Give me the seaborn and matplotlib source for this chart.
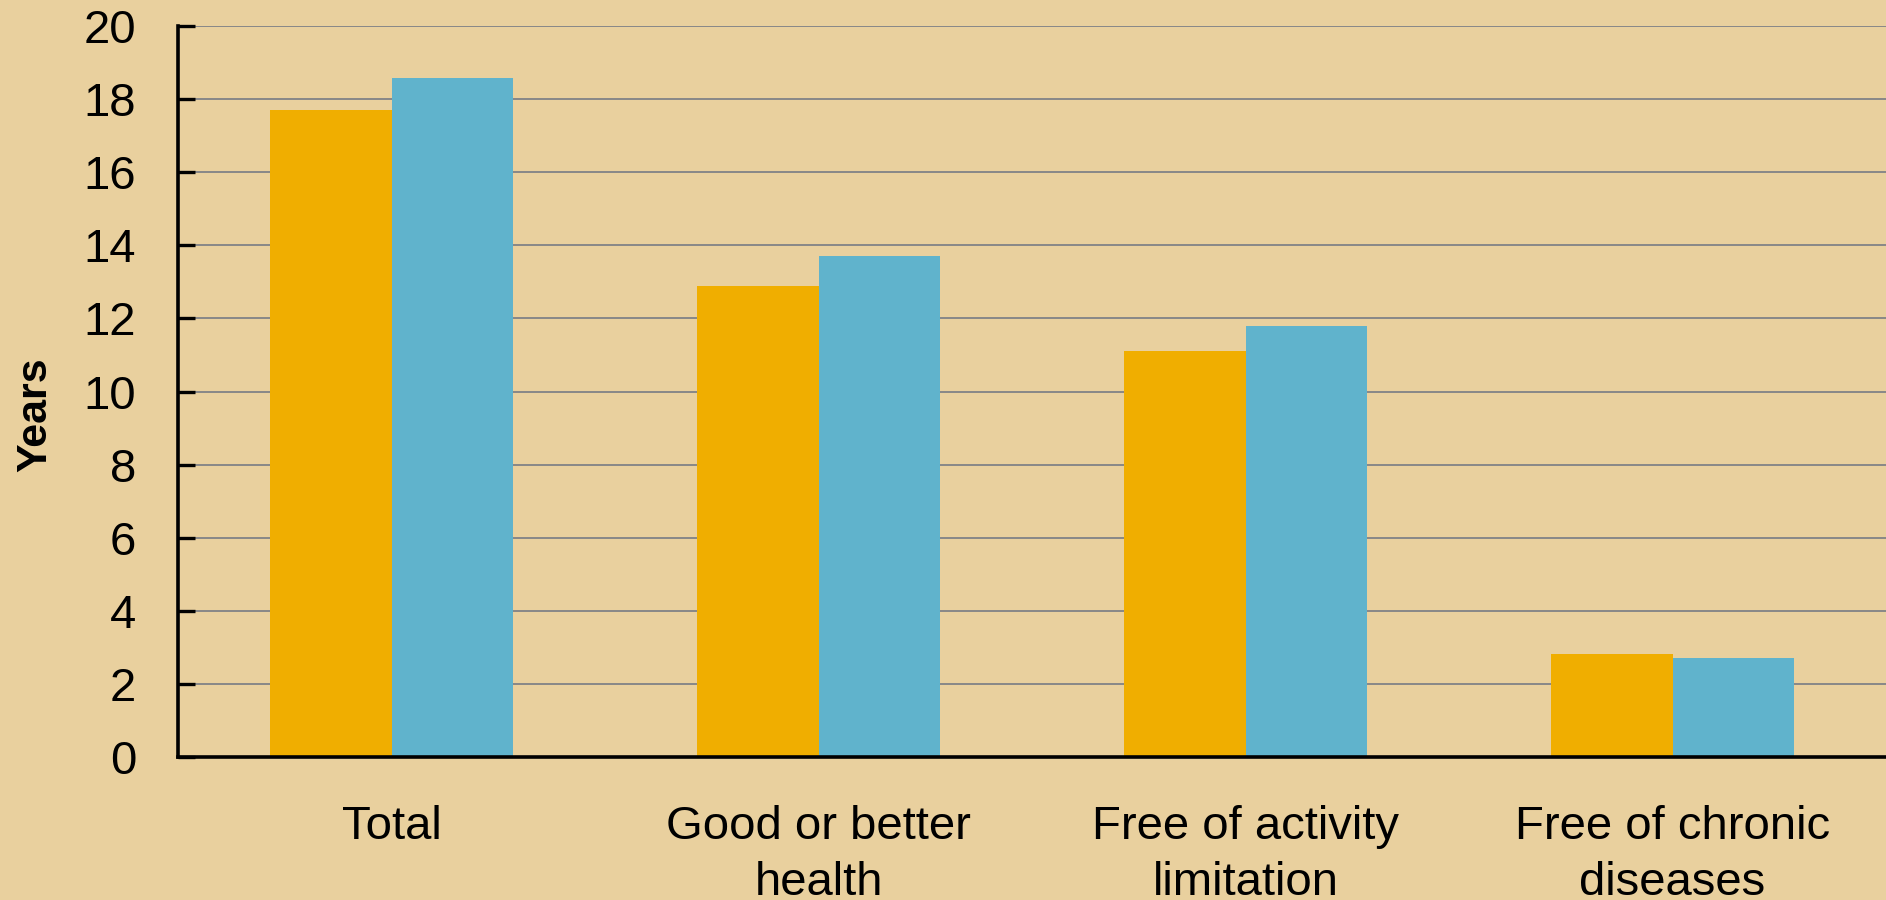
import numpy as np
import pandas as pd
import matplotlib
matplotlib.use("Agg")
import matplotlib.pyplot as plt
import seaborn as sns

# Data
categories = ["Total", "Good or better\nhealth", "Free of activity\nlimitation", "Free of chronic\ndiseases"]
series_names = ["Series 1", "Series 2"]
series1 = [17.7, 12.9, 11.1, 2.8]
series2 = [18.6, 13.7, 11.8, 2.7]
y_ticks = [0, 2, 4, 6, 8, 10, 12, 14, 16, 18, 20]

bg = "#E9D09E"
colors = ["#F0AE00", "#60B3CC"]

df = pd.DataFrame({
    "category": categories * 2,
    "years": series1 + series2,
    "series": [series_names[0]] * 4 + [series_names[1]] * 4,
})

sns.set_style("white")
plt.rcParams["font.family"] = ["Liberation Sans", "DejaVu Sans"]
plt.rcParams["text.color"] = "black"
plt.rcParams["axes.labelcolor"] = "black"
plt.rcParams["xtick.color"] = "black"
plt.rcParams["ytick.color"] = "black"

fig = plt.figure(figsize=(18.86, 9.0), dpi=100, facecolor=bg)
ax = fig.add_axes([0.0944, 0.1594, 0.9056, 0.8112])
ax.set_facecolor(bg)

sns.barplot(data=df, x="category", y="years", hue="series", order=categories,
            hue_order=series_names, palette=colors, width=0.57, saturation=1,
            errorbar=None, legend=False, linewidth=0, ax=ax)

ax.set_ylim(0, 20)
ax.set_xlim(-0.5, 3.5)
ax.set_yticks(y_ticks)
ax.set_yticklabels([str(t) for t in y_ticks], fontsize=34)
ax.tick_params(axis="y", left=True, direction="in", length=12, width=2.4, pad=30, colors="black")
ax.tick_params(axis="x", bottom=False, length=0, pad=35, labelsize=34)
for lbl in ax.get_xticklabels():
    lbl.set_linespacing(1.36)

ax.grid(axis="y", color="#888888", linewidth=1.4)
ax.set_axisbelow(True)

for side in ["top", "right"]:
    ax.spines[side].set_visible(False)
for side in ["left", "bottom"]:
    ax.spines[side].set_linewidth(2.6)
    ax.spines[side].set_color("black")

ax.set_xlabel("")
ax.set_ylabel("Years", fontsize=31, fontweight="bold")
ax.yaxis.set_label_coords(-0.0720, 0.468)

fig.savefig("out.png", dpi=100, facecolor=bg)
